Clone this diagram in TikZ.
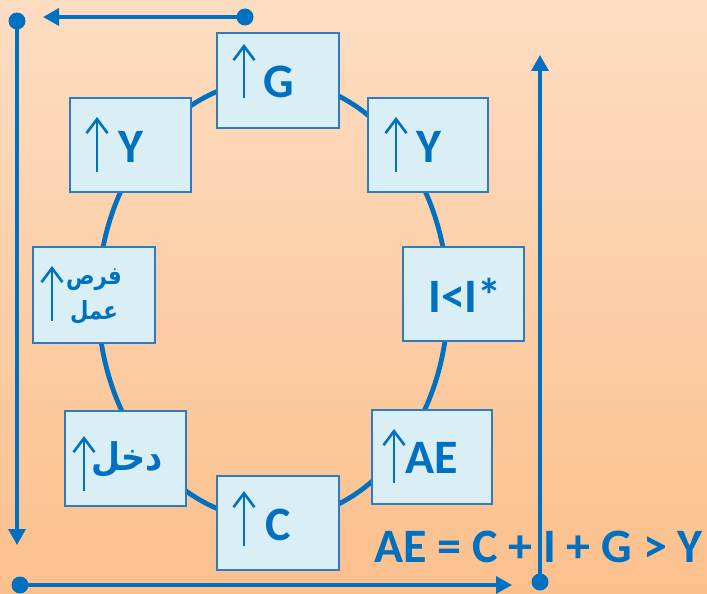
\documentclass[tikz,border=0pt]{standalone}
\usepackage{fontspec}
\setmainfont{Carlito}
\newfontfamily\arabicfont[Script=Arabic]{DejaVu Sans}
\TeXXeTstate=1
\usetikzlibrary{arrows.meta}
\definecolor{txtblue}{HTML}{0070C0}
\definecolor{boxline}{HTML}{2E7BC4}
\definecolor{boxfill}{HTML}{DAEEF5}
\definecolor{bgtop}{HTML}{FDDDC2}
\definecolor{bgbot}{HTML}{FCC08C}
\begin{document}
\begin{tikzpicture}[x=1pt,y=-1pt,
  box/.style={draw=boxline,fill=boxfill,line width=1.5pt,inner sep=0pt},
  lbl/.style={text=txtblue,font=\fontsize{48}{48}\selectfont\bfseries,inner sep=0pt,anchor=base west},
  uparr/.style={draw=txtblue,line width=2.6pt,-{Straight Barb[length=14pt,width=21pt,line width=2.6pt]}},
  dot/.style={circle,fill=txtblue,minimum size=17pt,inner sep=0pt},
  outarr/.style={draw=txtblue,line width=3.4pt,-{Triangle[length=16pt,width=17pt]}}]
\useasboundingbox (0,0) rectangle (707,594);
\shade[top color=bgtop,bottom color=bgbot] (0,0) rectangle (707,594);
% ellipse
\draw[txtblue,line width=4.8pt] (273,300) ellipse [x radius=175,y radius=220];
% boxes
\node[box,minimum width=122pt,minimum height=95pt] (g) at (278,80.5) {};
\node[box,minimum width=121pt,minimum height=94pt] (yl) at (130.5,145) {};
\node[box,minimum width=120pt,minimum height=94pt] (yr) at (428,145) {};
\node[box,minimum width=122pt,minimum height=96pt] (frs) at (94,295) {};
\node[box,minimum width=121pt,minimum height=94pt] (ii) at (463.5,294) {};
\node[box,minimum width=121pt,minimum height=95pt] (dkhl) at (125.5,458.5) {};
\node[box,minimum width=120pt,minimum height=94pt] (ae) at (432,457) {};
\node[box,minimum width=122pt,minimum height=94pt] (c) at (278,523) {};
% inner up arrows
\draw[uparr] (244,98) -- (244,44);
\draw[uparr] (97,172) -- (97,117);
\draw[uparr] (396,172) -- (396,117);
\draw[uparr] (52,321) -- (52,266);
\draw[uparr] (84,491) -- (84,436);
\draw[uparr] (394,483) -- (394,429);
\draw[uparr] (244,546) -- (244,491);
% labels
\node[lbl] (tg) at (263,98) {G};
\node[lbl] (tyl) at (118,162) {Y};
\node[lbl] (tyr) at (416,162) {Y};
\node[lbl] (tii) at (428,312) {I<I*};
\node[lbl] (tae) at (405,473) {AE};
\node[lbl] (tc) at (265,540) {C};
\node[text=txtblue,font=\arabicfont\bfseries\fontsize{25}{35}\selectfont,align=center,inner sep=0pt] (tfrs) at (94,296) {\scalebox{0.85}[1]{\beginR فرص\endR}\\\scalebox{0.85}[1]{\beginR عمل\endR}};
\node[text=txtblue,font=\arabicfont\bfseries\fontsize{38}{38}\selectfont,inner sep=0pt] (tdkhl) at (127,460) {\scalebox{0.88}[1]{\beginR دخل\endR}};
\node[lbl] (eq) at (374,562) {AE = C + I + G > Y};
% outer arrows
\node[dot] (d1) at (245,17) {};
\coordinate (e1) at (43,17);
\node[dot] (d2) at (17,21) {};
\coordinate (e2) at (17,545);
\node[dot] (d3) at (20,585) {};
\coordinate (e3) at (512,585);
\node[dot] (d4) at (540,582) {};
\coordinate (e4) at (540,55);
\draw[outarr] (d1.center) -- (e1);
\draw[outarr] (d2.center) -- (e2);
\draw[outarr] (d3.center) -- (e3);
\draw[outarr] (d4.center) -- (e4);
\end{tikzpicture}
\end{document}
